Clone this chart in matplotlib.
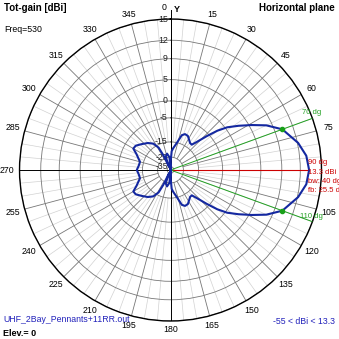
import numpy as np
import matplotlib
matplotlib.use("Agg")
import matplotlib.pyplot as plt

plt.rcParams['font.family'] = ['Liberation Sans', 'DejaVu Sans']

#-----------------------------------------------------------------------------

# pattern (direction in deg, clockwise from Y, gain in dBi)
angles_deg = [0, 1.5, 3.5, 7, 13, 18, 22, 27, 32, 36, 40, 43, 47, 50, 53, 57,
              61, 65, 70, 78, 84, 90, 96, 102, 110, 115, 119, 123, 127, 130,
              133, 137, 140, 144, 148, 153, 158, 162, 167, 173, 176.5, 178.5,
              180, 181, 185, 192, 200, 204, 206, 208, 213, 220, 228, 235, 240,
              245, 255, 262, 270, 278, 285, 295, 300, 305, 312, 320, 327, 332,
              334, 336, 340, 348, 355, 359, 360]
gain_dbi = [-50, -28, -20.5, -18.5, -15.2, -10.9, -10.0, -10.2, -11.5, -12.4,
            -12.5, -10.2, -5.8, -2.2, 0.5, 3.0, 5.5, 8.0, 10.3, 12.1, 13.0,
            13.3, 13.0, 12.1, 10.3, 8.0, 5.5, 3.0, 0.5, -2.2, -5.8, -10.2,
            -12.5, -12.4, -11.5, -10.2, -10.0, -10.9, -15.2, -18.5, -20.5,
            -28, -50, -35, -25, -22, -24, -35, -22, -16.5, -13.3, -11.5,
            -10.0, -8.5, -8.3, -10.5, -13.2, -13.0, -12.2, -13.0, -13.2,
            -10.5, -8.3, -8.5, -10.0, -11.5, -13.3, -16.5, -22, -35, -24,
            -22, -25, -35, -50]

ring_db = [-35, -25, -15, -5, 0, 5, 9, 12, 15]
angle_ticks = list(range(0, 360, 15))

max_dir = 90
max_gain = 13.3
hp_dirs = [70, 110]
hp_gain = 10.3
beamwidth = 40
front_back = 25.5
freq = 530
gain_min = -55

R_MIN, R_MAX = -40, 15


# radial scale of the plot (dB -> radius), log-like
def fwd(d):
    d = np.asarray(d, dtype=float)
    return np.maximum(2.0 ** ((d - R_MIN) / 15.0) - 1.0, 0.0)


def inv(r):
    r = np.asarray(r, dtype=float)
    return 15.0 * np.log2(np.maximum(r, 0.0) + 1.0) + R_MIN


def px(x, y):
    # pixel position in the 339x339 picture -> figure fraction
    return x / 339.0, 1.0 - y / 339.0


#-----------------------------------------------------------------------------

fig = plt.figure(figsize=(3.39, 3.39), dpi=100)
ax = fig.add_axes([0.0576, 0.0531, 0.8908, 0.8908], projection='polar')
ax.set_theta_zero_location('N')
ax.set_theta_direction(-1)
ax.set_rscale('function', functions=(fwd, inv))
ax.set_rlim(R_MIN, R_MAX)

ax.set_xticks([])
ax.set_yticks(ring_db)
ax.set_yticklabels([])
ax.yaxis.grid(True, color='#777777', lw=0.6)
ax.spines['polar'].set_color('black')
ax.spines['polar'].set_linewidth(1.0)

# spokes
for a in range(0, 360, 5):
    if a % 90 == 0:
        continue
    th = np.deg2rad(a)
    if a % 15 == 0:
        ax.plot([th, th], [-25, R_MAX], color='#777777', lw=0.6, zorder=1)
    else:
        ax.plot([th, th], [-15, R_MAX], color='#d2d2d2', lw=0.5, zorder=1)

# axis lines
for a in [0, 180, 270]:
    th = np.deg2rad(a)
    ax.plot([th, th], [R_MIN, R_MAX], color='black', lw=0.7, zorder=2)
ax.plot([0.5, 0.5], [0.5, 1.03], transform=ax.transAxes, color='black',
        lw=0.7, clip_on=False)

# ring labels along the Y axis
for v in ring_db:
    ax.annotate(str(v), xy=(0, v), xytext=(-2, 0), textcoords='offset points',
                ha='right', va='center', fontsize=6.3, color='#222222',
                zorder=3)

# direction labels round the outside
for a in angle_ticks:
    if a in (0, max_dir):
        continue
    th = np.deg2rad(a)
    d = (9 + 3.5 * abs(np.sin(th))) * 0.72
    ax.annotate(str(a), xy=(th, R_MAX), xytext=(d * np.sin(th), d * np.cos(th)),
                textcoords='offset points', ha='center', va='center',
                fontsize=6.3, annotation_clip=False)

#-----------------------------------------------------------------------------

# max direction and half-power lines
ax.plot([np.deg2rad(max_dir)] * 2, [R_MIN, max_gain], color='#cc0000', lw=0.8,
        zorder=4)
for a in hp_dirs:
    th = np.deg2rad(a)
    ax.plot([th, th], [R_MIN, R_MAX], color='#22a022', lw=0.7, zorder=4)

# the pattern
ax.plot(np.deg2rad(angles_deg), gain_dbi, color='#1428a0', lw=1.5, zorder=5)
ax.plot(np.deg2rad(hp_dirs), [hp_gain] * len(hp_dirs), 'o', ms=3,
        color='#18a018', zorder=6)

#-----------------------------------------------------------------------------

# texts
fig.text(*px(4, 8), 'Tot-gain [dBi]', fontsize=7, fontweight='bold', va='center')
fig.text(*px(335, 8), 'Horizontal plane', fontsize=7, fontweight='bold',
         ha='right', va='center')
fig.text(*px(4, 30), 'Freq=%d' % freq, fontsize=6.3, va='center')
fig.text(*px(164, 8), '0', fontsize=6.3, ha='center', va='center')
fig.text(*px(177, 9), 'Y', fontsize=6.5, fontweight='bold', ha='center',
         va='center')

fig.text(*px(3, 320), 'UHF_2Bay_Pennants+11RR.out', fontsize=6.3,
         color='#2222bb', va='center')
fig.text(*px(3, 333), 'Elev.= 0', fontsize=6.5, fontweight='bold', va='center')
fig.text(*px(335, 322), '%d < dBi < %.1f' % (gain_min, max_gain), fontsize=6.3,
         color='#2222bb', ha='right', va='center')

red_lines = ['%d dg' % max_dir, '%.1f dBi' % max_gain, 'bw: %d dg' % beamwidth,
             'fb: %.1f dB' % front_back]
for i, s in enumerate(red_lines):
    fig.text(*px(308, 163 + 9.3 * i), s, fontsize=5.5, color='#cc0000',
             va='center')

fig.text(*px(302, 112), '%d dg' % hp_dirs[0], fontsize=5.5, color='#22a022',
         va='center')
fig.text(*px(300, 216), '%d dg' % hp_dirs[1], fontsize=5.5, color='#22a022',
         va='center')

fig.savefig('out.png', dpi=100)
